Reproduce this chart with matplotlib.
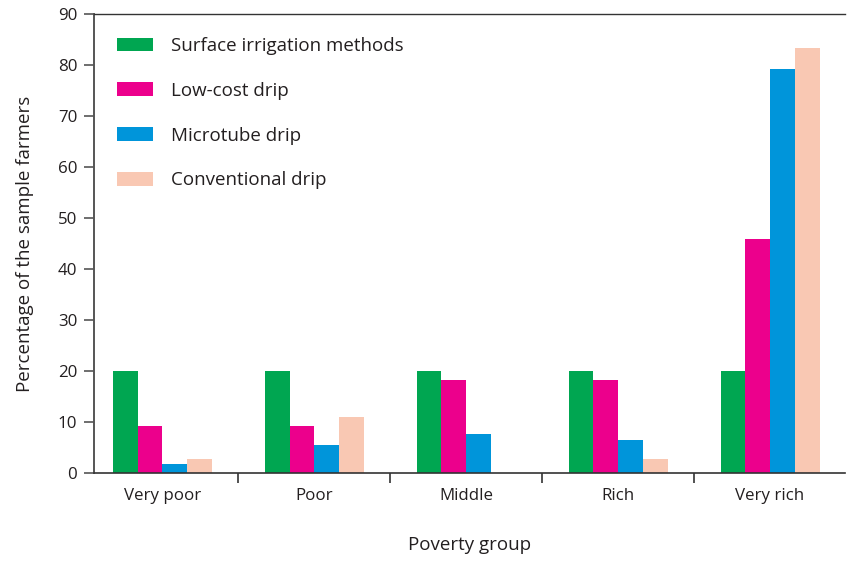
import numpy as np
import matplotlib.pyplot as plt

plt.rcParams['font.family'] = ['Open Sans', 'DejaVu Sans']

# Data
groups = ['Very poor', 'Poor', 'Middle', 'Rich', 'Very rich']
series = ['Surface irrigation methods', 'Low-cost drip', 'Microtube drip', 'Conventional drip']
surface = [20, 20, 20, 20, 20]
low_cost = [9.2, 9.2, 18.2, 18.2, 45.9]
microtube = [1.8, 5.5, 7.7, 6.5, 79.2]
conventional = [2.8, 11.0, 0, 2.8, 83.3]
colors = ['#00a651', '#ec008c', '#0095da', '#f9c8b3']

text_col = '#231f20'
x = np.arange(len(groups))
width = 0.163

fig = plt.figure(figsize=(8.49, 5.61), dpi=100)
ax = fig.add_axes([0.1107, 0.1569, 0.884, 0.8181])

values = [surface, low_cost, microtube, conventional]
for i, (vals, lab, col) in enumerate(zip(values, series, colors)):
    ax.bar(x + (i - 1.5) * width, vals, width, color=col, label=lab, linewidth=0)

ax.set_xlim(-0.45, 4.49)
ax.set_ylim(0, 90)
ax.set_yticks(np.arange(0, 91, 10))

# ticks between groups on the x axis, labels at group centres
ax.set_xticks(x)
ax.set_xticklabels(groups, fontsize=12.2, color=text_col)
ax.tick_params(axis='x', which='major', length=0, pad=11)
ax.set_xticks(x[:-1] + 0.5, minor=True)
ax.tick_params(axis='x', which='minor', length=7, width=1.2, color='#333333', direction='out')
ax.tick_params(axis='y', length=7, width=1.2, color='#555555', direction='out',
               labelsize=12.2, labelcolor=text_col, pad=5)

ax.spines['right'].set_visible(False)
ax.spines['left'].set_color('#555555')
ax.spines['left'].set_linewidth(1.4)
ax.spines['bottom'].set_color('#333333')
ax.spines['bottom'].set_linewidth(1.2)
ax.spines['top'].set_color('#333333')
ax.spines['top'].set_linewidth(1.0)

ax.set_xlabel('Poverty group', fontsize=13.5, color=text_col, labelpad=23)
ax.set_ylabel('Percentage of the sample farmers', fontsize=13.5, color=text_col, labelpad=17)

leg = ax.legend(loc='upper left', bbox_to_anchor=(0.031, 0.95), frameon=False,
                fontsize=13.5, handlelength=1.92, handleheight=0.75,
                labelspacing=1.43, handletextpad=0.96, borderpad=0, borderaxespad=0)
for t in leg.get_texts():
    t.set_color(text_col)

fig.savefig('out.png', dpi=100)
